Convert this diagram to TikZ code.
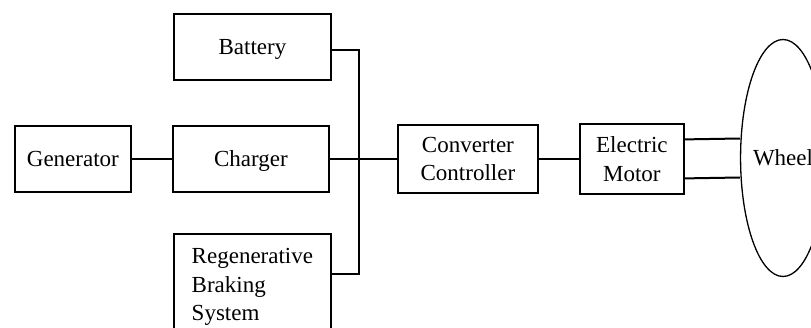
\documentclass[tikz,border=0pt]{standalone}
\usepackage{fontspec}
\setmainfont{Liberation Serif}
\usetikzlibrary{shapes.geometric}

\begin{document}
\begin{tikzpicture}[x=1pt,y=-1pt,
  every node/.style={font=\fontsize{23}{28.5}\selectfont, inner sep=0pt},
  block/.style={draw, line width=1.8pt, anchor=north west, align=center},
  oneline/.style={text height=15pt, text depth=0pt},
  wire/.style={line width=2pt}]
\clip (0,0) rectangle (811,327);
\node[block, oneline, minimum width=157, minimum height=66] (battery) at (173,13) {Battery};
\node[block, oneline, minimum width=116, minimum height=66] (gen) at (14,125) {Generator};
\node[block, oneline, minimum width=156, minimum height=66] (charger) at (172,125) {Charger};
\node[block, minimum width=157, inner ysep=14pt, text height=73pt, text depth=40pt, align=left] (regen) at (173,233) {Regenerative\\Braking\\System};
\node[block, minimum width=140, minimum height=68] (conv) at (397,124) {Converter\\Controller};
\node[block, minimum width=104, minimum height=70] (motor) at (579,123) {Electric\\Motor};
\node[ellipse, draw, line width=1.3pt, minimum width=78, minimum height=237] (wheel) at (783,158) {Wheel};
\coordinate (bus) at (359,158);
\draw[wire] (gen) -- (charger);
\draw[wire] (charger) -- (conv);
\draw[wire] ([yshift=-3pt]battery.east) -| (bus) |- ([yshift=-41pt]regen.north east);
\draw[wire] (conv) -- (motor);
\draw[wire] ([yshift=19.5pt]motor.east) -- ([yshift=19.5pt]wheel.west);
\draw[wire] ([yshift=-19.5pt]motor.east) -- ([yshift=-19.5pt]wheel.west);
\end{tikzpicture}
\end{document}
